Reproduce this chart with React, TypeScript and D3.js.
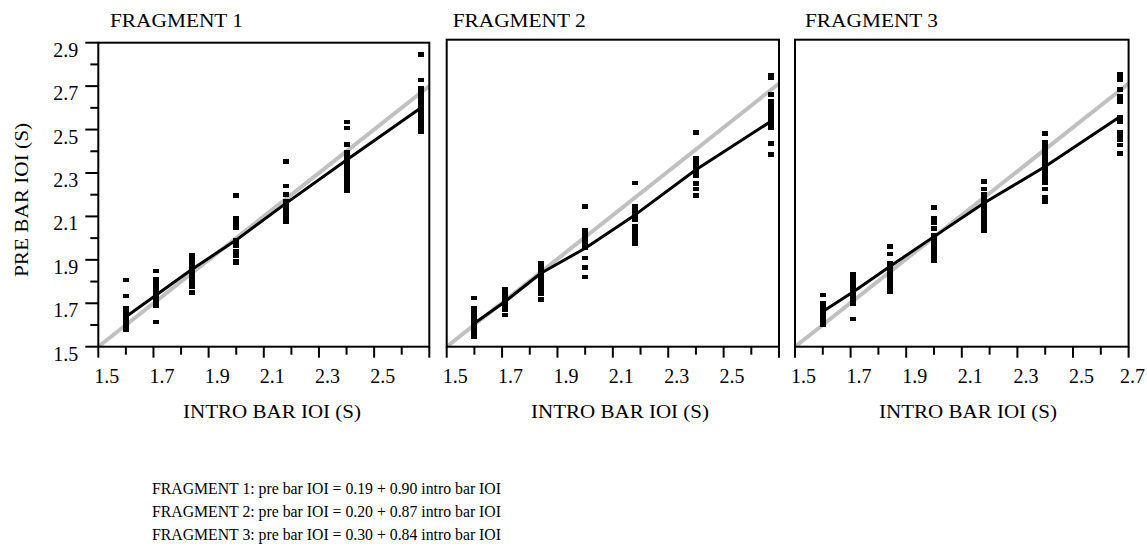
import React from "react";
import * as d3 from "d3";

// ---- data ----
const introLevels = [1.6, 1.71, 1.84, 2.0, 2.18, 2.4, 2.67];

const frag1Points: number[][] = [
  [1.807, 1.734, 1.678, 1.66, 1.645, 1.63, 1.615, 1.6, 1.585, 1.577],
  [1.849, 1.81, 1.79, 1.77, 1.75, 1.735, 1.72, 1.7, 1.69, 1.614],
  [1.92, 1.9, 1.88, 1.86, 1.845, 1.83, 1.81, 1.79, 1.775, 1.75],
  [2.197, 2.09, 2.07, 2.05, 1.99, 1.965, 1.94, 1.92, 1.895, 1.885],
  [2.353, 2.24, 2.2, 2.17, 2.15, 2.13, 2.11, 2.09, 2.075],
  [2.535, 2.508, 2.43, 2.395, 2.37, 2.35, 2.33, 2.31, 2.29, 2.27, 2.25, 2.23, 2.22],
  [2.847, 2.729, 2.69, 2.67, 2.65, 2.63, 2.61, 2.59, 2.57, 2.55, 2.53, 2.51, 2.49],
];
const frag2Points: number[][] = [
  [1.722, 1.675, 1.66, 1.64, 1.62, 1.6, 1.58, 1.56, 1.545],
  [1.763, 1.745, 1.73, 1.71, 1.69, 1.67, 1.645],
  [1.882, 1.86, 1.84, 1.82, 1.8, 1.78, 1.76, 1.74, 1.715],
  [2.138, 2.03, 2.01, 1.99, 1.97, 1.95, 1.905, 1.86, 1.818],
  [2.247, 2.14, 2.12, 2.1, 2.08, 2.05, 2.03, 2.01, 1.99, 1.97],
  [2.476, 2.36, 2.34, 2.32, 2.3, 2.28, 2.245, 2.22, 2.19],
  [2.736, 2.725, 2.649, 2.62, 2.6, 2.58, 2.56, 2.54, 2.52, 2.5, 2.426, 2.376],
];
const frag3Points: number[][] = [
  [1.736, 1.7, 1.68, 1.66, 1.64, 1.62, 1.6],
  [1.832, 1.81, 1.79, 1.77, 1.75, 1.73, 1.71, 1.695, 1.626],
  [1.958, 1.923, 1.88, 1.86, 1.84, 1.82, 1.8, 1.78, 1.76, 1.75],
  [2.136, 2.085, 2.065, 2.04, 2.01, 1.99, 1.97, 1.95, 1.93, 1.91, 1.89],
  [2.253, 2.22, 2.195, 2.17, 2.15, 2.13, 2.11, 2.09, 2.07, 2.05, 2.03],
  [2.471, 2.43, 2.41, 2.39, 2.37, 2.35, 2.33, 2.31, 2.29, 2.27, 2.25, 2.22, 2.18, 2.16],
  [2.741, 2.718, 2.672, 2.64, 2.617, 2.544, 2.526, 2.48, 2.46, 2.444, 2.42, 2.38],
];

const frag1Fit = [1.638, 1.738, 1.857, 1.991, 2.16, 2.36, 2.6];
const frag2Fit = [1.607, 1.705, 1.835, 1.949, 2.101, 2.307, 2.527];
const frag3Fit = [1.66, 1.751, 1.865, 2.002, 2.155, 2.322, 2.55];

const identityLine = [1.5, 2.7];

const axisTicks = [1.5, 1.6, 1.7, 1.8, 1.9, 2.0, 2.1, 2.2, 2.3, 2.4, 2.5, 2.6, 2.7];
const xTickLabels = ["1.5", "1.7", "1.9", "2.1", "2.3", "2.5", "2.7"];
const yTicks = [1.5, 1.6, 1.7, 1.8, 1.9, 2.0, 2.1, 2.2, 2.3, 2.4, 2.5, 2.6, 2.7, 2.8, 2.9];
const yTickLabels = ["1.5", "1.7", "1.9", "2.1", "2.3", "2.5", "2.7", "2.9"];

const panelTitles = ["FRAGMENT 1", "FRAGMENT 2", "FRAGMENT 3"];
const xAxisTitle = "INTRO BAR IOI (S)";
const yAxisTitle = "PRE BAR IOI (S)";
const equations = [
  "FRAGMENT 1: pre bar IOI = 0.19 + 0.90 intro bar IOI",
  "FRAGMENT 2: pre bar IOI = 0.20 + 0.87 intro bar IOI",
  "FRAGMENT 3: pre bar IOI = 0.30 + 0.84 intro bar IOI",
];

// ---- layout ----
const W = 1147;
const H = 547;
const FONT = "'Liberation Serif', 'Times New Roman', serif";

const panels = [
  { left: 98.3, right: 429.3, top: 42.7, bottom: 346.7, points: frag1Points, fit: frag1Fit, yAxis: true, last: false, titleX: 110, axisTitleX: 272 },
  { left: 446.7, right: 779, top: 39.7, bottom: 346.7, points: frag2Points, fit: frag2Fit, yAxis: false, last: false, titleX: 452.7, axisTitleX: 620 },
  { left: 795, right: 1128.6, top: 39.7, bottom: 346.7, points: frag3Points, fit: frag3Fit, yAxis: false, last: true, titleX: 805, axisTitleX: 968 },
];

function Panel({ p, idx }: { p: (typeof panels)[number]; idx: number }) {
  const x = d3.scaleLinear().domain([1.5, 2.7]).range([p.left, p.right]);
  const y = d3.scaleLinear().domain([1.5, 2.9]).range([p.bottom, p.top]);
  const line = d3
    .line<number>()
    .x((_, i) => x(introLevels[i]))
    .y((v) => y(v));
  const idLine = d3
    .line<number>()
    .x((v) => x(v))
    .y((v) => y(v));
  const isMajor = (v: number) => Math.round(v * 10) % 2 === 1;
  const labels = p.last ? xTickLabels : xTickLabels.slice(0, -1);
  return (
    <g>
      <defs>
        <clipPath id={`clip${idx}`}>
          <rect x={p.left} y={p.top} width={p.right - p.left} height={p.bottom - p.top} />
        </clipPath>
      </defs>
      {/* identity line */}
      <path
        d={idLine(identityLine) || ""}
        stroke="#c0c0c0"
        strokeWidth={4}
        fill="none"
        clipPath={`url(#clip${idx})`}
      />
      {/* points */}
      {p.points.map((col, ci) =>
        col.map((v, vi) => (
          <rect
            key={`${ci}-${vi}`}
            x={x(introLevels[ci]) - 3}
            y={y(v) - 2.3}
            width={6}
            height={4.6}
            fill="#000"
            shapeRendering="crispEdges"
          />
        ))
      )}
      {/* fit line */}
      <path d={line(p.fit) || ""} stroke="#000" strokeWidth={3} fill="none" strokeLinejoin="round" />
      {/* frame */}
      <rect
        x={p.left}
        y={p.top}
        width={p.right - p.left}
        height={p.bottom - p.top}
        fill="none"
        stroke="#000"
        strokeWidth={2}
      />
      {/* x ticks */}
      {axisTicks.map((t) => (
        <line
          key={`xt${t}`}
          x1={x(t)}
          x2={x(t)}
          y1={p.bottom}
          y2={p.bottom + (isMajor(t) ? 11 : 8)}
          stroke="#000"
          strokeWidth={2}
        />
      ))}
      {labels.map((l, li) => {
        const isEnd = p.last && li === labels.length - 1;
        return (
          <text
            key={`xl${l}`}
            x={isEnd ? 1145 : x(+l) - 4}
            y={p.bottom + 36}
            fontSize={20}
            fontFamily={FONT}
            textAnchor={isEnd ? "end" : "start"}
          >
            {l}
          </text>
        );
      })}
      {/* y axis */}
      {p.yAxis &&
        yTicks.map((t) => (
          <line
            key={`yt${t}`}
            x1={p.left - (isMajor(t) ? 13 : 8)}
            x2={p.left}
            y1={y(t)}
            y2={y(t)}
            stroke="#000"
            strokeWidth={2}
          />
        ))}
      {p.yAxis &&
        yTickLabels.map((l) => (
          <text key={`yl${l}`} x={p.left - 20} y={y(+l) + 14} fontSize={20} fontFamily={FONT} textAnchor="end">
            {l}
          </text>
        ))}
      {/* titles */}
      <text x={p.titleX} y={27} fontSize={19} fontFamily={FONT} textLength={133} lengthAdjust="spacingAndGlyphs">
        {panelTitles[idx]}
      </text>
      <text
        x={p.axisTitleX}
        y={418}
        fontSize={19.5}
        fontFamily={FONT}
        textAnchor="middle"
        textLength={178}
        lengthAdjust="spacingAndGlyphs"
      >
        {xAxisTitle}
      </text>
    </g>
  );
}

export default function App() {
  return (
    <svg
      width={W}
      height={H}
      viewBox={`0 0 ${W} ${H}`}
      style={{ position: "absolute", left: 0, top: 0, background: "#fff" }}
    >
      <rect x={0} y={0} width={W} height={H} fill="#fff" />
      {panels.map((p, i) => (
        <Panel key={i} p={p} idx={i} />
      ))}
      <text
        transform="translate(28,200) rotate(-90)"
        fontSize={19.5}
        fontFamily={FONT}
        textAnchor="middle"
        textLength={154}
        lengthAdjust="spacingAndGlyphs"
      >
        {yAxisTitle}
      </text>
      {equations.map((e, i) => (
        <text key={i} x={152} y={494 + i * 23} fontSize={16} fontFamily={FONT} textLength={349} lengthAdjust="spacingAndGlyphs">
          {e}
        </text>
      ))}
    </svg>
  );
}
